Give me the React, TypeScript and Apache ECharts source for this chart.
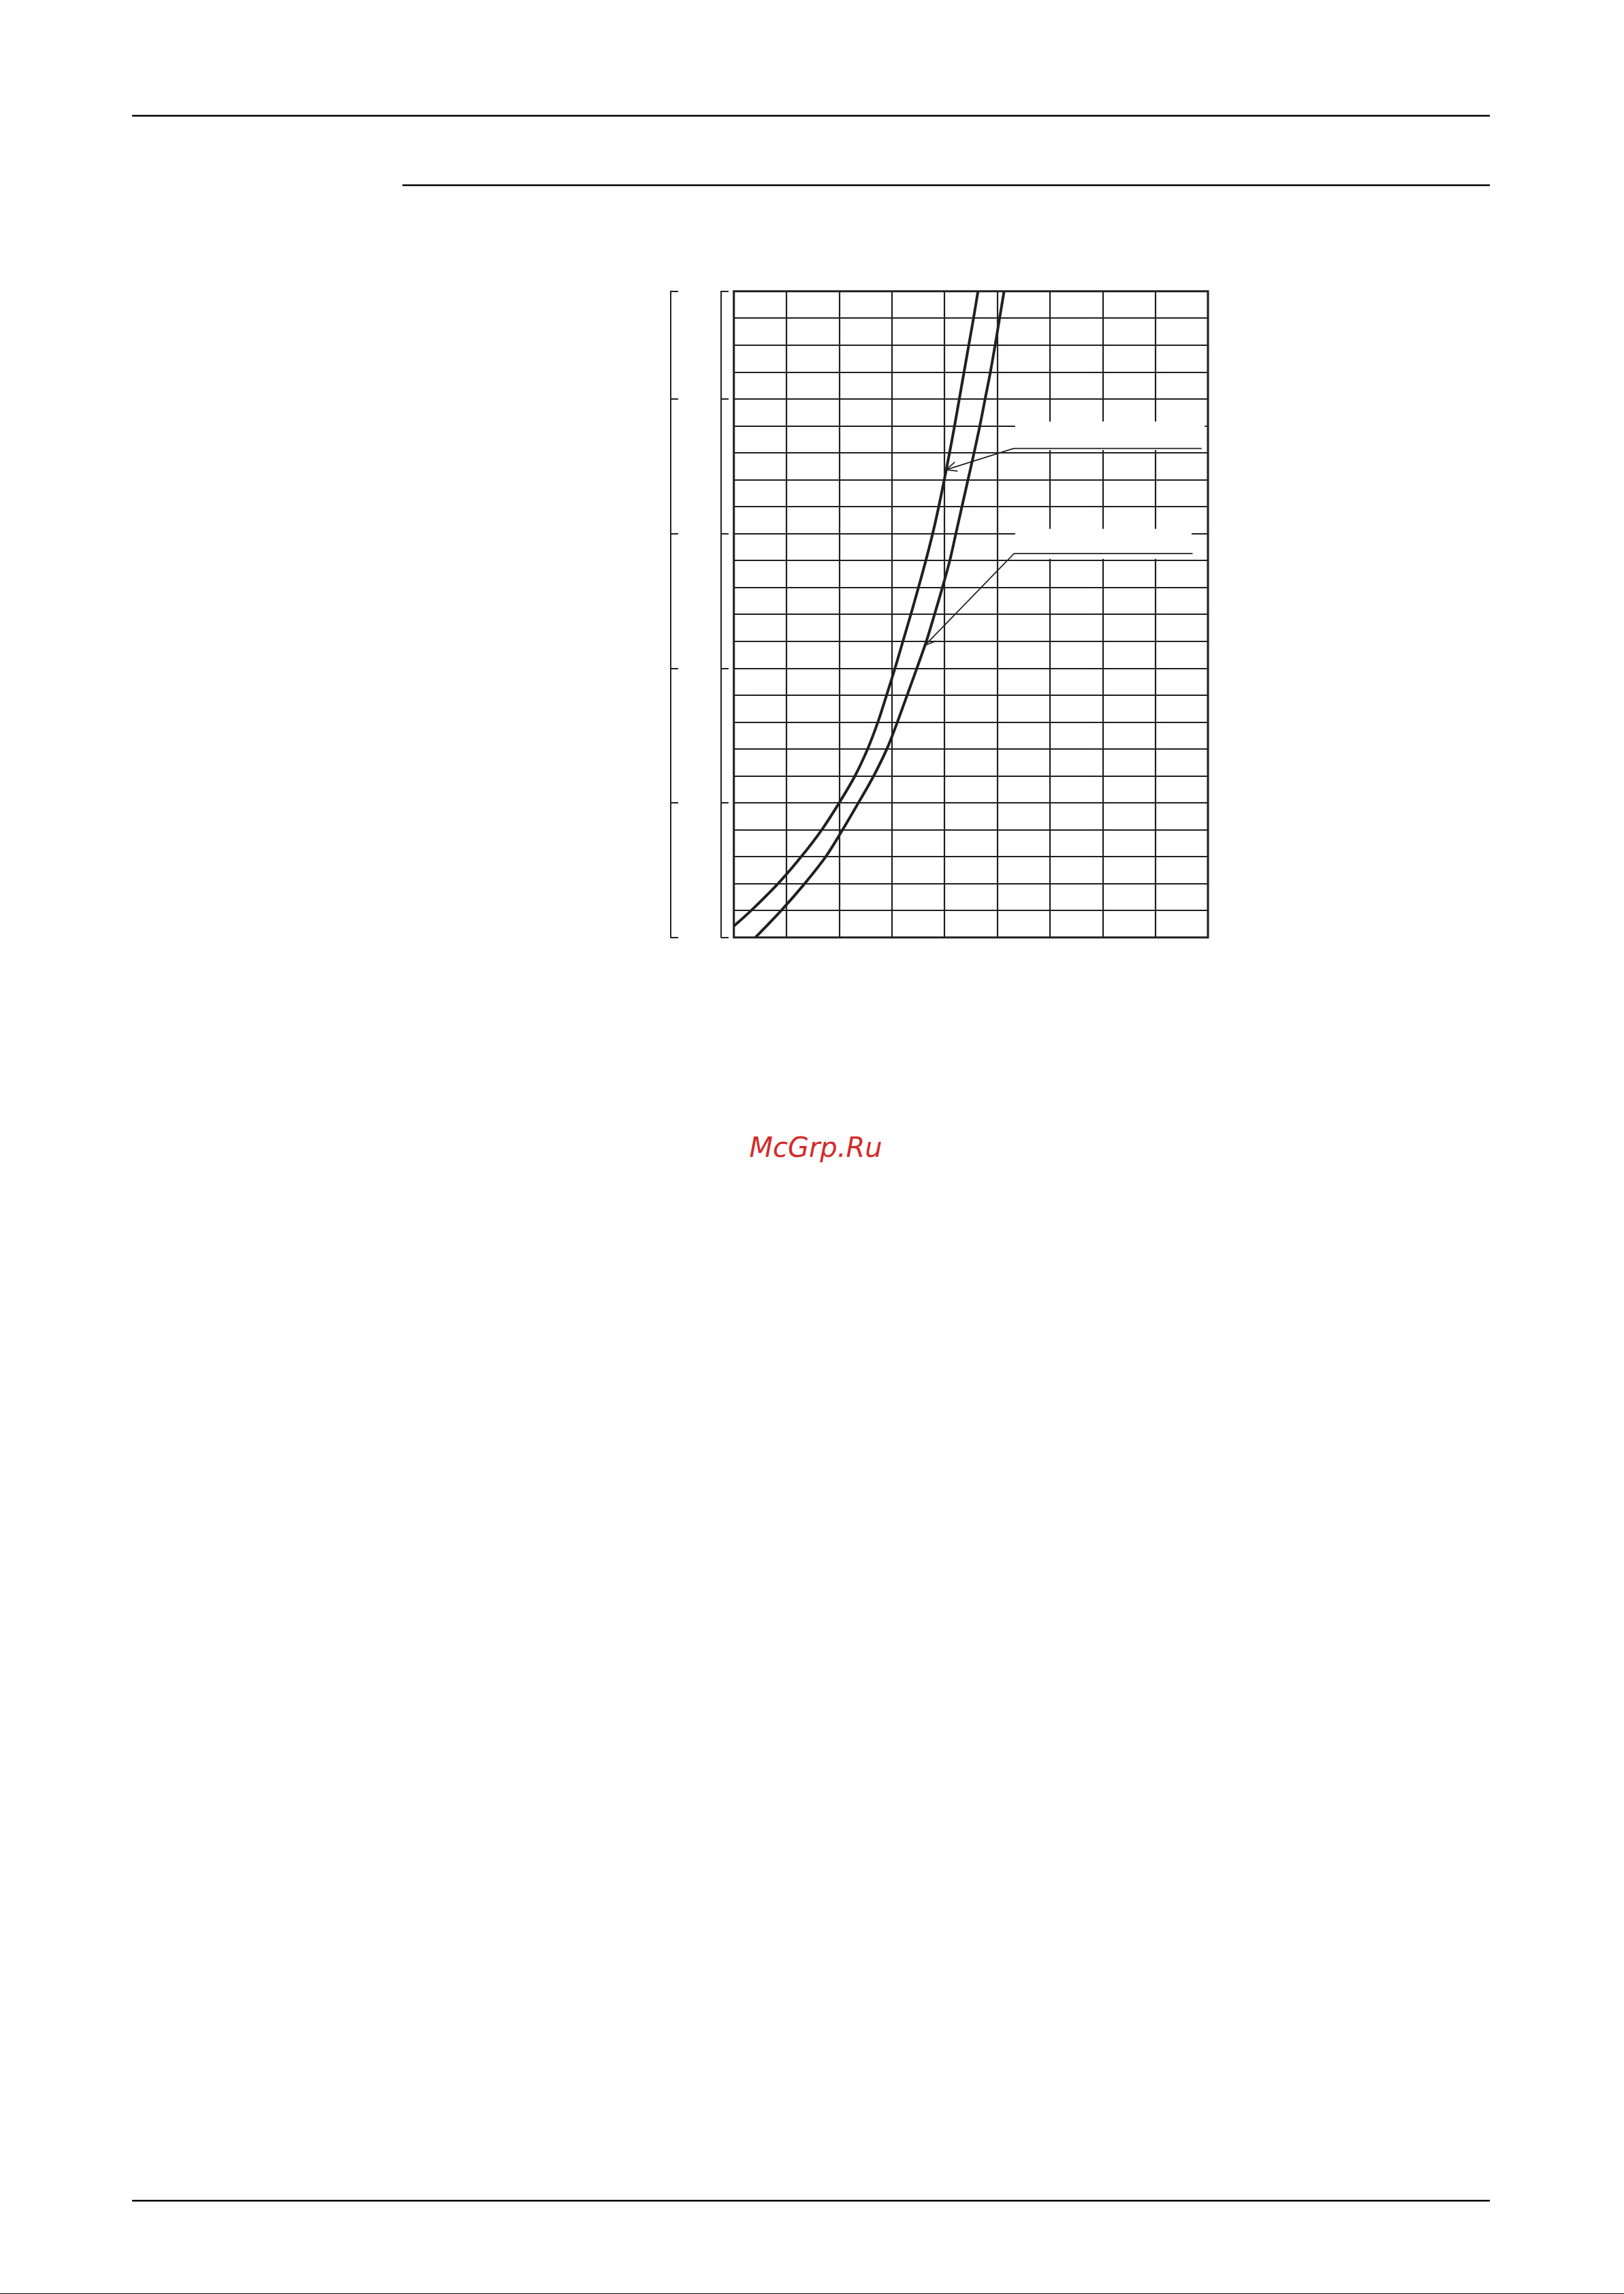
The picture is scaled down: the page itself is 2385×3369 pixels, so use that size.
import React, { useEffect, useRef } from "react";
import * as echarts from "echarts";

// Curve A (left / upper curve): x in grid columns, y in grid rows
const CURVE_A_X = [0, 0.33, 0.84, 1.28, 1.67, 2.0, 2.3, 2.54, 2.735, 2.9, 3.06, 3.21, 3.36, 3.505, 3.645, 3.775, 3.89, 3.995, 4.095, 4.19, 4.28, 4.37, 4.46, 4.55, 4.635];
const CURVE_A_Y = [0.42, 1, 2, 3, 4, 5, 6, 7, 8, 9, 10, 11, 12, 13, 14, 15, 16, 17, 18, 19, 20, 21, 22, 23, 24];
// Curve B (right / lower curve)
const CURVE_B_X = [0.41, 0.9, 1.345, 1.745, 2.065, 2.365, 2.655, 2.905, 3.105, 3.29, 3.475, 3.655, 3.81, 3.96, 4.1, 4.215, 4.33, 4.445, 4.56, 4.67, 4.77, 4.87, 4.96, 5.045, 5.13];
const CURVE_B_Y = [0, 1, 2, 3, 4, 5, 6, 7, 8, 9, 10, 11, 12, 13, 14, 15, 16, 17, 18, 19, 20, 21, 22, 23, 24];

// Axis extents
const X_MIN = 0;
const X_MAX = 9;
const Y_MIN = 0;
const Y_MAX = 24;
const BRACKET_TICK = 5;

// Annotation anchors (data units): arrow tip on curve, elbow, underline end, label box
const ANNOT_TIP = [[4.03, 17.37], [3.63, 10.85]];
const ANNOT_ELBOW = [[5.31, 18.16], [5.32, 14.26]];
const ANNOT_END_X = [8.88, 8.71];
const ANNOT_BOX = [[5.34, 8.94, 19.16, 18.1], [5.34, 8.69, 15.17, 14.06]];

const WATERMARK = "McGrp.Ru";

const INK = "#231f20";

export default function App() {
  const ref = useRef<HTMLDivElement>(null);
  useEffect(() => {
    document.body.style.margin = "0";
    const chart = echarts.init(ref.current!, null, { renderer: "svg" });
    const zip = (xs: number[], ys: number[]) => xs.map((x, i) => [x, ys[i]]);
    chart.setOption({
      animation: false,
      backgroundColor: "#ffffff",
      grid: {
        left: 1077.7,
        top: 427.7,
        width: 696.3,
        height: 949,
        show: true,
        borderColor: INK,
        borderWidth: 3,
        backgroundColor: "transparent",
        containLabel: false,
        outerBoundsMode: "none",
      },
      xAxis: {
        type: "value",
        min: X_MIN,
        max: X_MAX,
        interval: 1,
        axisLine: { show: false },
        axisTick: { show: false },
        axisLabel: { show: false },
        splitLine: { show: true, lineStyle: { color: INK, width: 2.2 } },
      },
      yAxis: [
        {
          type: "value",
          min: Y_MIN,
          max: Y_MAX,
          interval: 1,
          axisLine: { show: false },
          axisTick: { show: false },
          axisLabel: { show: false },
          splitLine: { show: true, lineStyle: { color: INK, width: 2.2 } },
        },
        {
          type: "value",
          position: "left",
          offset: 18.7,
          min: Y_MIN,
          max: Y_MAX,
          interval: BRACKET_TICK,
          axisLine: { show: true, lineStyle: { color: INK, width: 2 } },
          axisTick: { show: true, inside: true, length: 11, lineStyle: { color: INK, width: 2 } },
          axisLabel: { show: false },
          splitLine: { show: false },
        },
        {
          type: "value",
          position: "left",
          offset: 92.7,
          min: Y_MIN,
          max: Y_MAX,
          interval: BRACKET_TICK,
          axisLine: { show: true, lineStyle: { color: INK, width: 2 } },
          axisTick: { show: true, inside: true, length: 11, lineStyle: { color: INK, width: 2 } },
          axisLabel: { show: false },
          splitLine: { show: false },
        },
      ],
      series: [
        {
          type: "line",
          data: zip(CURVE_A_X, CURVE_A_Y),
          smooth: 0.35,
          symbol: "none",
          lineStyle: { color: INK, width: 4 },
          z: 5,
        },
        {
          type: "line",
          data: zip(CURVE_B_X, CURVE_B_Y),
          smooth: 0.35,
          symbol: "none",
          lineStyle: { color: INK, width: 4 },
          z: 5,
        },
      ],
    });

    const toPx = (p: number[]) => chart.convertToPixel({ seriesIndex: 0 }, p) as number[];
    const elements: any[] = [];

    // page rules
    const rule = (x1: number, y1: number, x2: number, y2: number, w: number) =>
      elements.push({ type: "line", z: 20, shape: { x1, y1, x2, y2 }, style: { stroke: "#000", lineWidth: w } });
    rule(194, 170, 2188, 170, 2.4);
    rule(591, 272, 2188, 272, 2.4);
    rule(194, 3232, 2188, 3232, 2.6);
    rule(0, 3368.5, 2385, 3368.5, 1);

    // annotations
    for (let i = 0; i < ANNOT_TIP.length; i++) {
      const b = ANNOT_BOX[i];
      const p1 = toPx([b[0], b[2]]);
      const p2 = toPx([b[1], b[3]]);
      elements.push({
        type: "rect",
        z: 20,
        shape: { x: p1[0], y: p1[1], width: p2[0] - p1[0], height: p2[1] - p1[1] },
        style: { fill: "#ffffff" },
      });
      const tip = toPx(ANNOT_TIP[i]);
      const elbow = toPx(ANNOT_ELBOW[i]);
      const end = toPx([ANNOT_END_X[i], ANNOT_ELBOW[i][1]]);
      elements.push({
        type: "polyline",
        z: 21,
        shape: { points: [tip, elbow, end] },
        style: { stroke: INK, lineWidth: 1.7, fill: null },
      });
      const ang = Math.atan2(elbow[1] - tip[1], elbow[0] - tip[0]);
      const len = 17;
      const spread = (24 * Math.PI) / 180;
      for (const s of [-1, 1]) {
        const a = ang + s * spread;
        elements.push({
          type: "line",
          z: 21,
          shape: { x1: tip[0], y1: tip[1], x2: tip[0] + len * Math.cos(a), y2: tip[1] + len * Math.sin(a) },
          style: { stroke: INK, lineWidth: 1.7 },
        });
      }
    }

    // watermark
    elements.push({
      type: "text",
      z: 30,
      x: 1198,
      y: 1685,
      style: {
        text: WATERMARK,
        font: "italic 40px 'DejaVu Sans'",
        fill: "#d42a2a",
        textAlign: "center",
        textVerticalAlign: "middle",
      },
    });

    chart.setOption({ graphic: { elements } });
    return () => chart.dispose();
  }, []);
  return (
    <div
      ref={ref}
      style={{ position: "absolute", left: 0, top: 0, width: 2385, height: 3369 }}
    />
  );
}
